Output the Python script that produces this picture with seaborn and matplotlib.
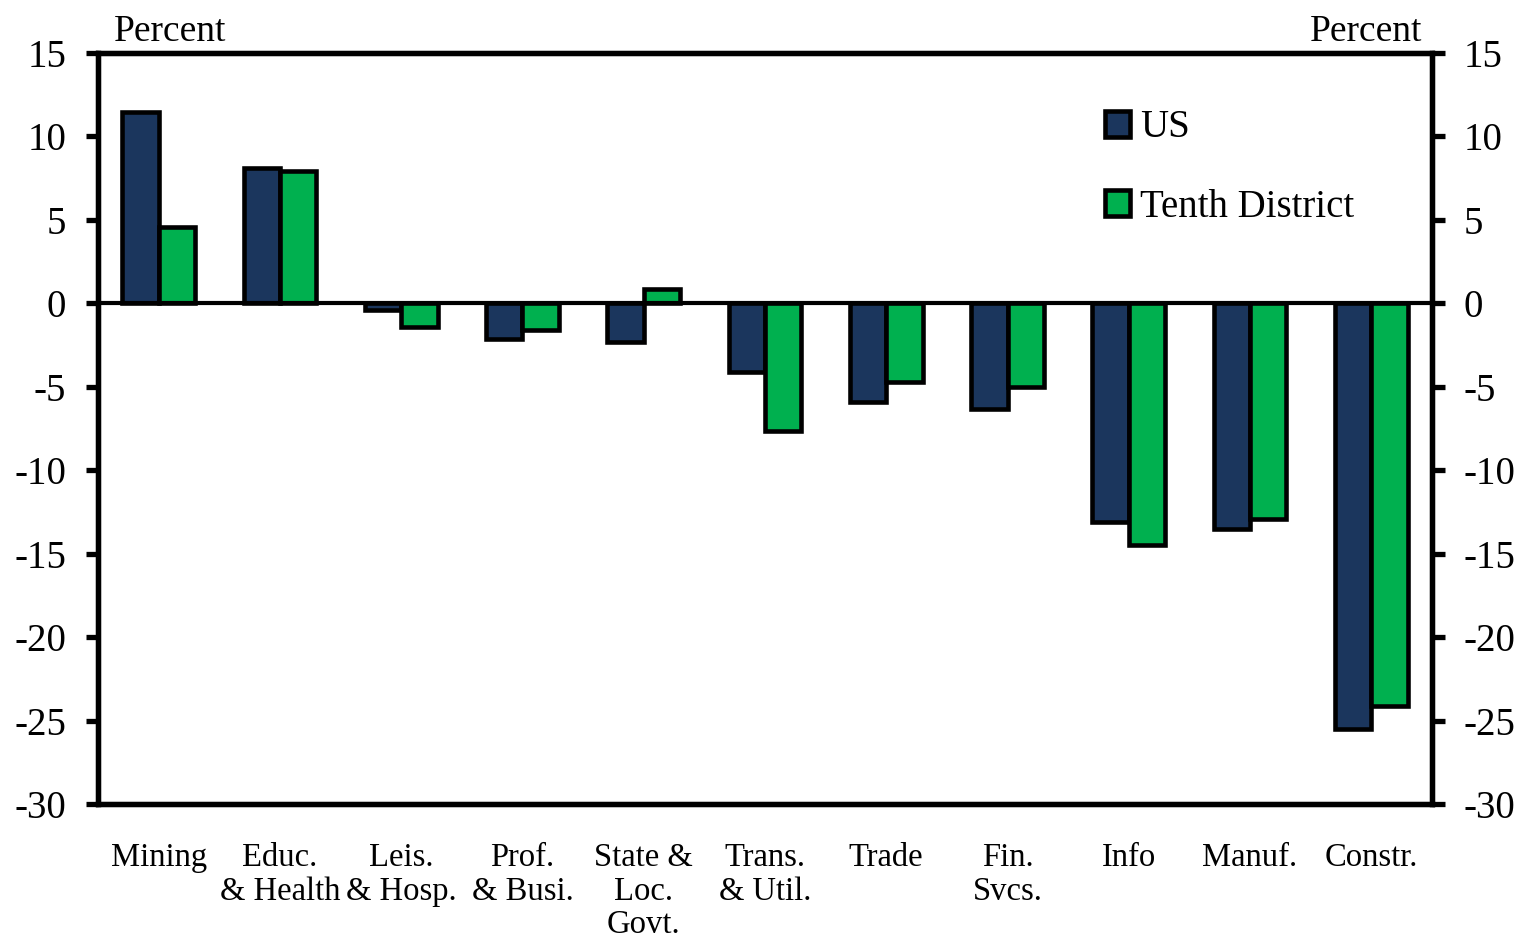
import numpy as np
import pandas as pd
import seaborn as sns
import matplotlib.pyplot as plt

# employment change by industry, percent
categories = ["Mining", "Educ.\n& Health", "Leis.\n& Hosp.", "Prof.\n& Busi.", "State &\nLoc.\nGovt.",
              "Trans.\n& Util.", "Trade", "Fin.\nSvcs.", "Info", "Manuf.", "Constr."]
us_vals = [11.45, 8.1, -0.4, -2.15, -2.3, -4.1, -5.9, -6.35, -13.1, -13.5, -25.5]
tenth_vals = [4.55, 7.9, -1.4, -1.6, 0.85, -7.65, -4.7, -5.0, -14.5, -12.95, -24.15]
series_names = ["US", "Tenth District"]
yticks = [15, 10, 5, 0, -5, -10, -15, -20, -25, -30]

df = pd.DataFrame({
    "category": categories * 2,
    "value": us_vals + tenth_vals,
    "series": [series_names[0]] * len(categories) + [series_names[1]] * len(categories),
})

sns.set_style("white")
plt.rcParams['font.family'] = ['Liberation Serif', 'DejaVu Serif']
plt.rcParams['axes.unicode_minus'] = False
plt.rcParams['text.color'] = 'black'
plt.rcParams['xtick.color'] = 'black'
plt.rcParams['ytick.color'] = 'black'
plt.rcParams['axes.edgecolor'] = 'black'

fig = plt.figure(figsize=(15.24, 9.41), dpi=100)
ax = fig.add_axes([0.0643, 0.1456, 0.8753, 0.7981])

sns.barplot(data=df, x="category", y="value", hue="series", order=categories,
            palette=["#1b365d", "#00b04f"], width=0.6, edgecolor="black",
            linewidth=3.3, saturation=1, ax=ax)

ax.axhline(0, color="black", lw=3, zorder=1)
ax.set_ylim(-30, 15)
ax.set_xlim(-0.5, len(categories) - 0.5)
ax.set_yticks(yticks)
ax.set_xlabel("")
ax.set_ylabel("")

for s in ax.spines.values():
    s.set_linewidth(3.8)
    s.set_color("black")

ax.tick_params(axis="y", direction="out", length=9, width=3.8, labelsize=28, pad=14, left=True)
ax.tick_params(axis="x", length=0, labelsize=23.5, pad=28)
for lbl in ax.get_xticklabels():
    lbl.set_linespacing(1.13)

ax2 = ax.twinx()
ax2.set_ylim(-30, 15)
ax2.set_yticks(yticks)
ax2.tick_params(axis="y", direction="out", length=9, width=3.8, labelsize=28, pad=14, right=True)
for s in ax2.spines.values():
    s.set_linewidth(3.8)
    s.set_color("black")

ax.text(0.012, 1.005, "Percent", transform=ax.transAxes, fontsize=27, ha="left", va="bottom")
ax.text(0.993, 1.005, "Percent", transform=ax.transAxes, fontsize=27, ha="right", va="bottom")

leg = ax.legend(loc="upper left", bbox_to_anchor=(0.755, 0.925), frameon=False, fontsize=28,
                handlelength=0.65, handleheight=0.65, handletextpad=0.25, labelspacing=1.1,
                borderpad=0, borderaxespad=0)
for h in leg.legend_handles:
    h.set_linewidth(3.3)
    h.set_edgecolor("black")

fig.savefig("out.png", dpi=100)
